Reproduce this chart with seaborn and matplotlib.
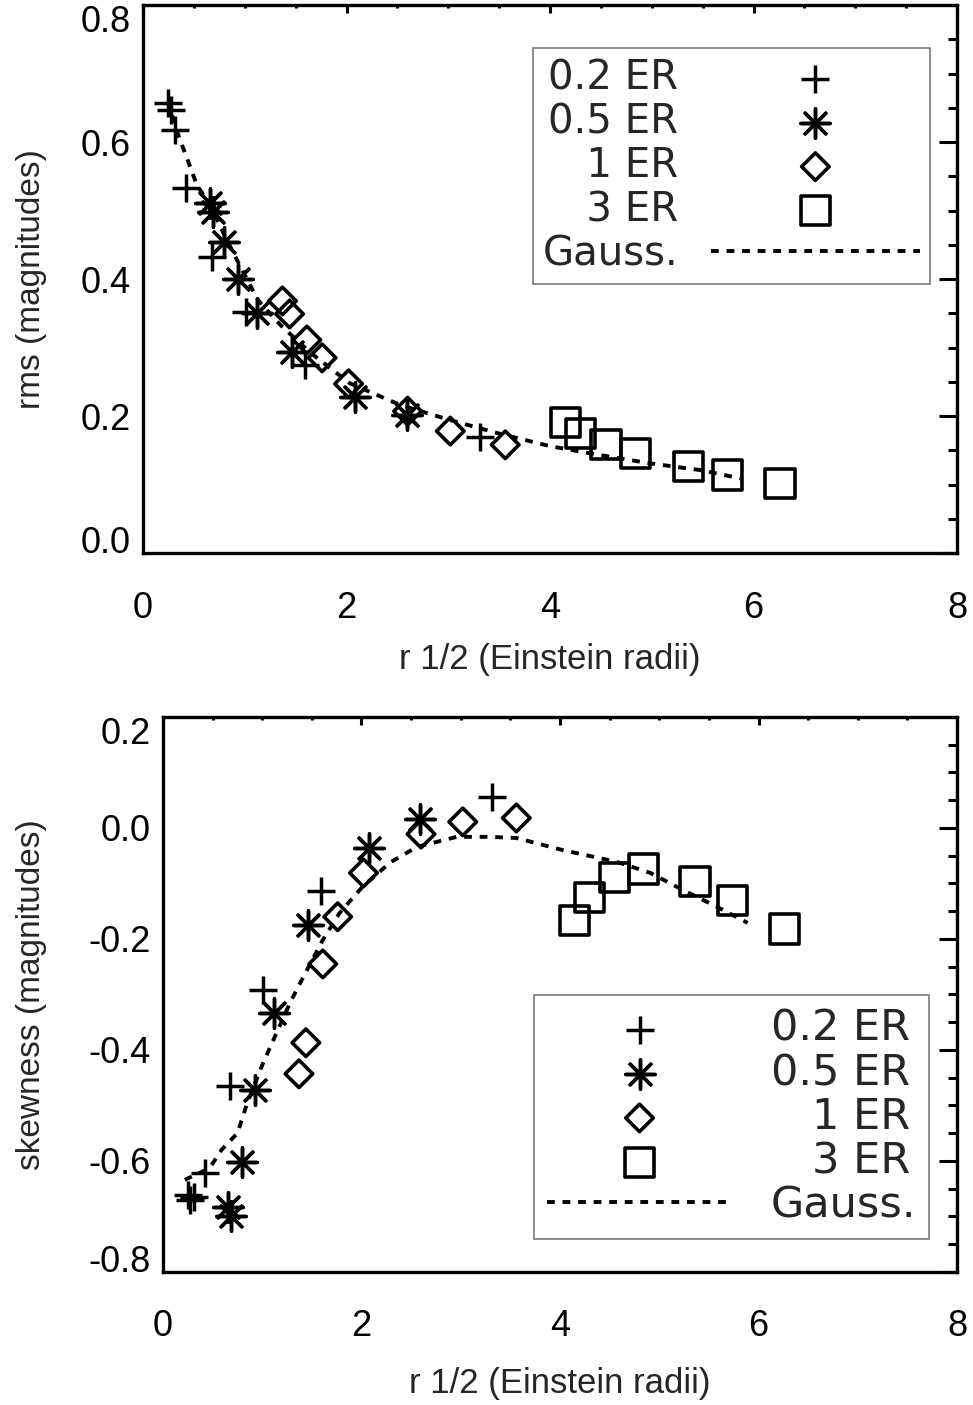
import seaborn as sns
import matplotlib.pyplot as plt
from matplotlib.ticker import MultipleLocator, FormatStrFormatter

# half-light radius r 1/2 (Einstein radii) for each source size
r_02 = [0.25, 0.27, 0.31, 0.42, 0.68, 1.01, 1.59, 3.31]
r_05 = [0.66, 0.69, 0.80, 0.93, 1.12, 1.46, 2.08, 2.59]
r_1 = [1.37, 1.44, 1.61, 1.76, 2.02, 2.60, 3.02, 3.56]
r_3 = [4.15, 4.30, 4.55, 4.84, 5.36, 5.74, 6.26]

# rms (magnitudes)
rms_02 = [0.657, 0.647, 0.617, 0.533, 0.432, 0.352, 0.274, 0.169]
rms_05 = [0.511, 0.498, 0.454, 0.400, 0.350, 0.293, 0.228, 0.201]
rms_1 = [0.368, 0.349, 0.311, 0.285, 0.247, 0.207, 0.178, 0.158]
rms_3 = [0.190, 0.175, 0.158, 0.145, 0.126, 0.114, 0.102]

# skewness (magnitudes)
skew_02 = [-0.661, -0.670, -0.665, -0.622, -0.465, -0.292, -0.113, 0.056]
skew_05 = [-0.683, -0.700, -0.602, -0.472, -0.333, -0.175, -0.036, 0.016]
skew_1 = [-0.443, -0.387, -0.245, -0.160, -0.081, -0.011, 0.011, 0.018]
skew_3 = [-0.166, -0.126, -0.090, -0.074, -0.097, -0.130, -0.182]

# gaussian source curves
gauss_rms_x = [0.25, 0.31, 0.43, 0.53, 0.66, 0.81, 0.95, 1.13, 1.35, 1.64, 2.03,
               2.53, 3.02, 3.51, 4.00, 4.49, 4.98, 5.48, 5.87]
gauss_rms_y = [0.661, 0.625, 0.577, 0.537, 0.508, 0.461, 0.420, 0.369, 0.333, 0.293, 0.248,
               0.216, 0.194, 0.174, 0.156, 0.143, 0.131, 0.121, 0.109]
gauss_skew_x = [0.22, 0.47, 0.59, 0.75, 0.85, 1.01, 1.28, 1.45, 1.61, 1.78, 2.01,
                2.29, 2.56, 2.96, 3.29, 3.56, 4.03, 4.57, 4.91, 5.24, 5.58, 5.89]
gauss_skew_y = [-0.634, -0.613, -0.580, -0.550, -0.495, -0.423, -0.315, -0.256, -0.202, -0.153, -0.106,
                -0.062, -0.034, -0.016, -0.016, -0.018, -0.040, -0.061, -0.081, -0.112, -0.142, -0.171]

labels = ['0.2 ER', '0.5 ER', '\u2007\u20081 ER', '\u2007\u20083 ER', 'Gauss.']

sns.set_style('white')
plt.rcParams['font.family'] = ['Liberation Sans', 'DejaVu Sans']
plt.rcParams['axes.unicode_minus'] = False

ASTER = (8, 2, 0)
styles = [
    dict(marker='+', s=20 ** 2, linewidth=2.5, color='k'),
    dict(marker=ASTER, s=21 ** 2, linewidth=2.5, color='k'),
    dict(marker='D', s=14 ** 2, linewidth=2.6, facecolor='none', edgecolor='k'),
    dict(marker='s', s=21 ** 2, linewidth=2.6, facecolor='none', edgecolor='k'),
]


def draw_panel(ax, xs, ys, gx, gy, ylabel, ylim):
    for x, y, st, lab in zip(xs, ys, styles, labels):
        sns.scatterplot(x=x, y=y, ax=ax, label=lab, zorder=3, **st)
    sns.lineplot(x=gx, y=gy, ax=ax, color='k', lw=2.8, linestyle=(0, (2.0, 2.0)),
                 label=labels[-1], zorder=4)
    ax.set_xlim(0, 8)
    ax.set_ylim(*ylim)
    ax.xaxis.set_major_locator(MultipleLocator(2))
    ax.xaxis.set_minor_locator(MultipleLocator(0.5))
    ax.yaxis.set_major_locator(MultipleLocator(0.2))
    ax.yaxis.set_minor_locator(MultipleLocator(0.05))
    ax.yaxis.set_major_formatter(FormatStrFormatter('%.1f'))
    ax.tick_params(which='both', direction='in', top=True, right=True,
                   width=2.2, labelsize=26, colors='k')
    ax.tick_params(axis='y', which='major', length=13, pad=9)
    ax.tick_params(axis='y', which='minor', length=6.5)
    ax.tick_params(axis='x', which='major', length=6, pad=27)
    ax.tick_params(axis='x', which='minor', length=2.5)
    for sp in ax.spines.values():
        sp.set_linewidth(2.4)
        sp.set_color('k')
    ax.set_xlabel('r 1/2 (Einstein radii)', fontsize=25)
    ax.set_ylabel(ylabel, fontsize=24)
    return ax.get_legend_handles_labels()


fig = plt.figure(figsize=(9.73, 14.05), dpi=100)
ax1 = fig.add_axes([0.147, 0.6064, 0.8366, 0.390])
ax2 = fig.add_axes([0.1675, 0.0947, 0.8161, 0.395])

h1, l1 = draw_panel(ax1, [r_02, r_05, r_1, r_3], [rms_02, rms_05, rms_1, rms_3],
                    gauss_rms_x, gauss_rms_y, 'rms (magnitudes)', (0, 0.8))
h2, l2 = draw_panel(ax2, [r_02, r_05, r_1, r_3], [skew_02, skew_05, skew_1, skew_3],
                    gauss_skew_x, gauss_skew_y, 'skewness (magnitudes)', (-0.8, 0.2))

leg1 = ax1.legend(h1, l1, loc='upper right', bbox_to_anchor=(0.967, 0.9215),
                  markerfirst=False, frameon=True, fancybox=False, borderaxespad=0,
                  handlelength=5.2, handletextpad=0.8, labelspacing=0.1,
                  borderpad=0.25, scatterpoints=1, numpoints=1,
                  prop={'family': ['DejaVu Sans'], 'size': 29})
leg2 = ax2.legend(h2, l2, loc='upper right', bbox_to_anchor=(0.965, 0.499),
                  markerfirst=True, frameon=True, fancybox=False, borderaxespad=0,
                  handlelength=4.3, handletextpad=0.9, labelspacing=0.05,
                  borderpad=0.3, scatterpoints=1, numpoints=1,
                  prop={'family': ['DejaVu Sans'], 'size': 31})
for leg in (leg1, leg2):
    leg.get_frame().set_edgecolor('0.35')
    leg.get_frame().set_linewidth(1.2)

ax1.yaxis.set_label_coords(-0.118, 0.5)
ax2.yaxis.set_label_coords(-0.146, 0.5)
ax1.xaxis.set_label_coords(0.5, -0.165)
ax2.xaxis.set_label_coords(0.5, -0.172)

# end labels sit inside the axis range, as in the original plot
fig.canvas.draw()
for ax in (ax1, ax2):
    lo, hi = ax.get_ylim()
    for tick in ax.yaxis.get_major_ticks():
        loc = tick.get_loc()
        if abs(loc - lo) < 1e-6:
            tick.label1.set_va('baseline')
        elif abs(loc - hi) < 1e-6:
            tick.label1.set_va('top')

fig.savefig('out.png', dpi=100)
